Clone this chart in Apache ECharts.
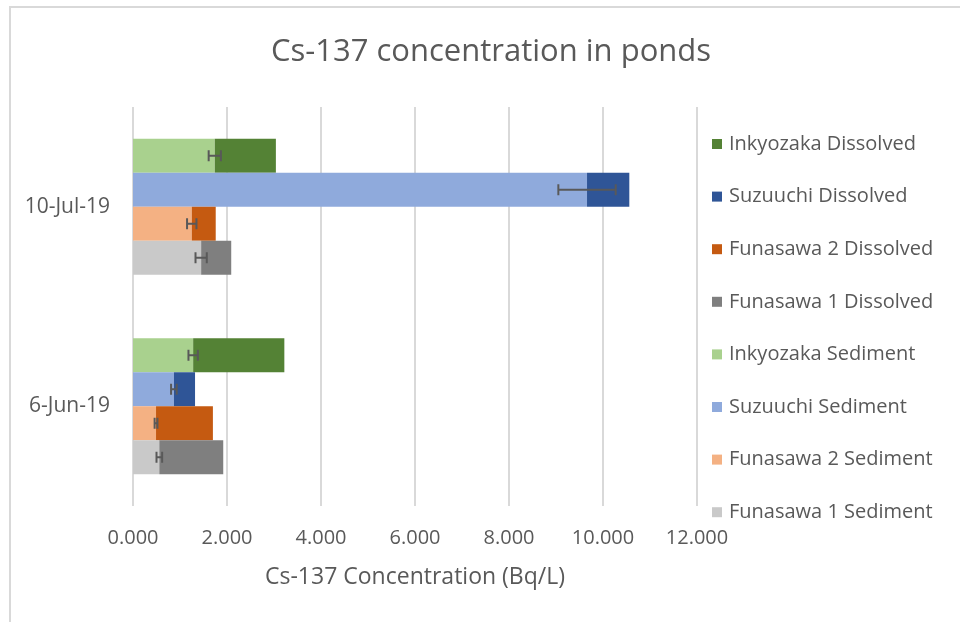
<!DOCTYPE html>
<html>
<head>
<meta charset="utf-8">
<script src="https://cdn.jsdelivr.net/npm/echarts@6/dist/echarts.min.js"></script>
<style>
  html, body { margin: 0; padding: 0; background: #fff; }
  #chart { width: 960px; height: 622px; }
</style>
</head>
<body>
<div id="chart"></div>
<script>
// categories, bottom to top
const dates = ['6-Jun-19', '10-Jul-19']
const ponds = ['Funasawa 1', 'Funasawa 2', 'Suzuuchi', 'Inkyozaka'] // bottom to top within a date
const xTicks = [0, 2, 4, 6, 8, 10, 12]

// Cs-137 (Bq/L) per pond, [6-Jun-19, 10-Jul-19]
const sediment = {
  'Funasawa 1': [0.56, 1.45],
  'Funasawa 2': [0.49, 1.25],
  'Suzuuchi': [0.87, 9.66],
  'Inkyozaka': [1.28, 1.74]
}
const dissolved = {
  'Funasawa 1': [1.36, 0.64],
  'Funasawa 2': [1.21, 0.51],
  'Suzuuchi': [0.45, 0.90],
  'Inkyozaka': [1.94, 1.30]
}
// error on the sediment value
const sedimentErr = {
  'Funasawa 1': [0.06, 0.12],
  'Funasawa 2': [0.03, 0.10],
  'Suzuuchi': [0.06, 0.61],
  'Inkyozaka': [0.10, 0.13]
}

const colors = {
  'Funasawa 1': ['#c9c9c9', '#7f7f7f'],
  'Funasawa 2': ['#f4b183', '#c55a11'],
  'Suzuuchi': ['#8faadc', '#2f5597'],
  'Inkyozaka': ['#a9d18e', '#548235']
}

const barW = 34
const fontFam = '"Open Sans", "Noto Sans", sans-serif'
const textColor = '#595959'

// echarts puts the first stack on top for horizontal bars, so go top-down
const series = []
ponds.slice().reverse().forEach(p => {
  series.push({
    name: p + ' Sediment',
    type: 'bar',
    stack: p,
    barWidth: barW,
    barGap: '0%',
    itemStyle: { color: colors[p][0] },
    data: sediment[p]
  })
  series.push({
    name: p + ' Dissolved',
    type: 'bar',
    stack: p,
    barWidth: barW,
    barGap: '0%',
    itemStyle: { color: colors[p][1] },
    data: dissolved[p]
  })
})

// error bars: [value, categoryIndex, err, pondIndex]
const errData = []
ponds.forEach((p, pi) => {
  dates.forEach((d, ci) => {
    errData.push([sediment[p][ci], ci, sedimentErr[p][ci], pi])
  })
})

series.push({
  name: 'err',
  type: 'custom',
  z: 10,
  data: errData,
  encode: { x: 0, y: 1 },
  renderItem (params, api) {
    const v = api.value(0)
    const ci = api.value(1)
    const e = api.value(2)
    const pi = api.value(3)
    const c = api.coord([v, ci])
    const y = c[1] + (1.5 - pi) * barW
    const x1 = api.coord([v - e, ci])[0]
    const x2 = api.coord([v + e, ci])[0]
    const h = 5.5
    const style = { stroke: '#595959', lineWidth: 2, fill: null }
    return {
      type: 'group',
      children: [
        { type: 'line', shape: { x1: x1, y1: y, x2: x2, y2: y }, style },
        { type: 'line', shape: { x1: x1, y1: y - h, x2: x1, y2: y + h }, style },
        { type: 'line', shape: { x1: x2, y1: y - h, x2: x2, y2: y + h }, style }
      ]
    }
  }
})

const legendOrder = [
  'Inkyozaka Dissolved', 'Suzuuchi Dissolved', 'Funasawa 2 Dissolved', 'Funasawa 1 Dissolved',
  'Inkyozaka Sediment', 'Suzuuchi Sediment', 'Funasawa 2 Sediment', 'Funasawa 1 Sediment'
]

const chart = echarts.init(document.getElementById('chart'))
chart.setOption({
  animation: false,
  textStyle: { fontFamily: fontFam },
  title: {
    text: 'Cs-137 concentration in ponds',
    left: 486,
    textAlign: 'center',
    top: 32,
    textStyle: { fontFamily: fontFam, fontSize: 31, fontWeight: 'normal', color: textColor }
  },
  graphic: [{
    type: 'rect',
    shape: { x: 10, y: 7, width: 1000, height: 1000 },
    style: { fill: null, stroke: '#d9d9d9', lineWidth: 2 },
    silent: true
  }],
  legend: {
    orient: 'vertical',
    left: 707,
    top: 127,
    itemWidth: 10,
    itemHeight: 10,
    itemGap: 28.6,
    icon: 'rect',
    data: legendOrder,
    textStyle: { fontFamily: fontFam, fontSize: 20, lineHeight: 24, color: textColor, padding: [0, 0, 0, 2] }
  },
  grid: { left: 133, right: 263, top: 107, bottom: 116 },
  xAxis: {
    type: 'value',
    min: xTicks[0],
    max: xTicks[xTicks.length - 1],
    interval: 2,
    name: 'Cs-137 Concentration (Bq/L)',
    nameLocation: 'middle',
    nameGap: 60,
    nameTextStyle: { fontFamily: fontFam, fontSize: 23, color: textColor },
    axisLine: { show: false },
    axisTick: { show: false },
    axisLabel: {
      margin: 22,
      fontSize: 20,
      color: textColor,
      fontFamily: fontFam,
      formatter: v => v.toFixed(3)
    },
    splitLine: { lineStyle: { color: '#d9d9d9', width: 2 } }
  },
  yAxis: {
    type: 'category',
    data: dates,
    axisLine: { show: false },
    axisTick: { show: false },
    axisLabel: { margin: 23, fontSize: 21, color: textColor, fontFamily: fontFam }
  },
  series
})
</script>
</body>
</html>
